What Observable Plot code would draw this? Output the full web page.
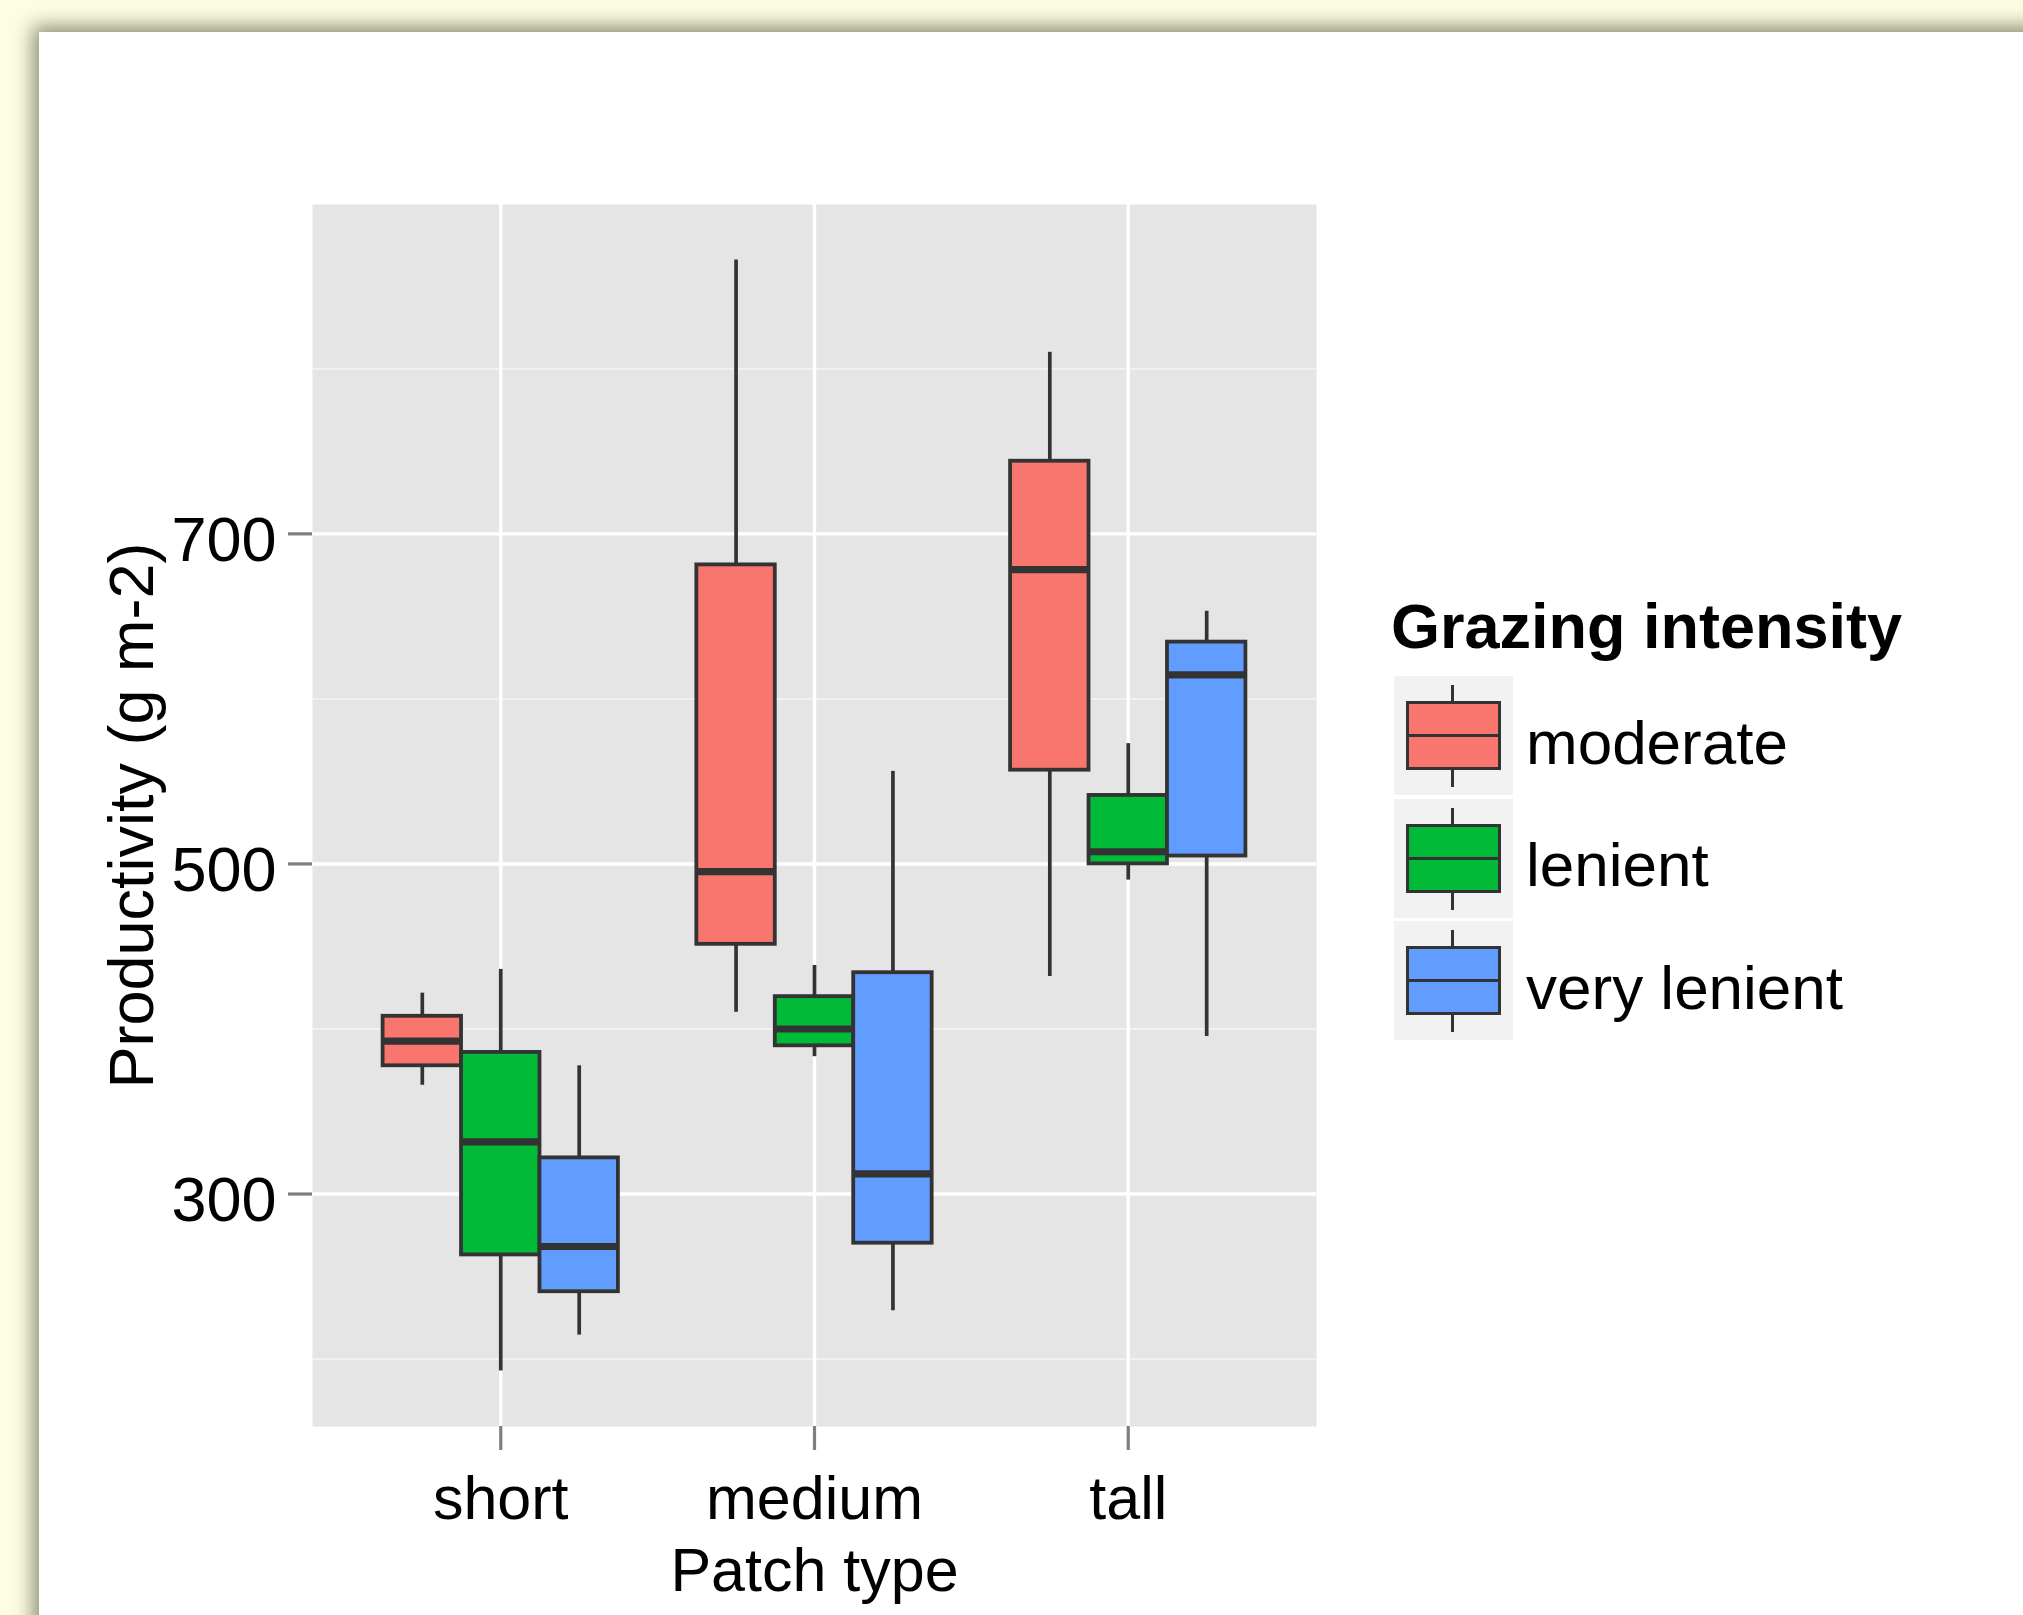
<!DOCTYPE html>
<html>
<head>
<meta charset="utf-8">
<script src="https://cdn.jsdelivr.net/npm/d3@7"></script>
<script src="https://cdn.jsdelivr.net/npm/@observablehq/plot@0.6"></script>
<style>
  html, body { margin: 0; padding: 0; }
  body {
    width: 2023px; height: 1615px; position: relative; overflow: hidden;
    background: #FDFDE4;
    font-family: "Liberation Sans", Arial, Helvetica, sans-serif;
  }
  #paper {
    position: absolute; left: 39px; top: 32px; width: 2100px; height: 1700px;
    background: #ffffff;
    box-shadow: -3px -3px 18px 3px rgba(70, 70, 45, 0.6);
  }
  #chart { position: absolute; left: 0; top: 0; width: 1340px; height: 1615px; }
  .legend-title {
    position: absolute; left: 1391px; top: 595px;
    font-size: 63px; line-height: 63px; font-weight: bold; color: #000; white-space: nowrap;
  }
  .key {
    position: absolute; left: 1394px; width: 119px; height: 119px; background: #F2F2F2;
  }
  .key .whisker {
    position: absolute; left: 57px; width: 3.4px; top: 9px; bottom: 8px; background: #333333;
  }
  .key .box {
    position: absolute; left: 12px; right: 12px; top: 25px; bottom: 25px;
    border: 3.4px solid #333333; box-sizing: border-box;
  }
  .key .median {
    position: absolute; left: 12px; right: 12px; top: 58px; height: 3.4px; background: #333333;
  }
  .key-label {
    position: absolute; left: 1526px; font-size: 62px; line-height: 62px; color: #000; white-space: nowrap;
  }
</style>
</head>
<body>
<div id="paper"></div>
<div id="chart"></div>
<div id="legend"></div>
<script>
// ---- data ----
const patches = ["short", "medium", "tall"];
const grazing = ["moderate", "lenient", "very lenient"];
const boxColors = ["#F8766D", "#00BA38", "#619CFF"];
// rows: grazing level (moderate, lenient, very lenient); columns: patch type (short, medium, tall)
const lowerWhisker = [[365.9, 410.1, 431.8], [192.8, 383.2, 490.2], [214.5, 229.3, 395.5]];
const lowerHinge   = [[377.7, 451.3, 556.8], [263.1, 389.8, 500.0], [240.8, 270.2, 504.8]];
const medians      = [[392.7, 495.3, 678.3], [331.6, 400.0, 507.4], [268.2, 312.2, 614.6]];
const upperHinge   = [[407.7, 681.2, 744.0], [385.8, 419.6, 541.5], [321.9, 434.1, 634.4]];
const upperWhisker = [[421.7, 865.9, 810.0], [436.1, 438.5, 572.9], [377.7, 556.1, 653.1]];
const majorYTicks = [300, 500, 700];
const minorYTicks = [200, 400, 600, 800];
const yTitle = "Productivity (g m-2)";
const xTitle = "Patch type";
const legendTitle = "Grazing intensity";

// ---- table for the library ----
const boxWidth = 0.25; // dodged box width, in category units
const patchPositions = patches.map((p, i) => i + 1);
const rows = [];
grazing.forEach((g, gi) => patches.forEach((p, pi) => rows.push({
  patch: p, grazing: g,
  pos: pi + 1 + (gi - 1) * boxWidth,
  lo: lowerWhisker[gi][pi], q1: lowerHinge[gi][pi], med: medians[gi][pi],
  q3: upperHinge[gi][pi], hi: upperWhisker[gi][pi]
})));
const yMin = d3.min(lowerWhisker.flat()), yMax = d3.max(upperWhisker.flat());
const yPad = 0.05 * (yMax - yMin);
const ink = "#333333";

const chart = Plot.plot({
  width: 1340, height: 1615,
  marginLeft: 312, marginRight: 24, marginTop: 204, marginBottom: 189,
  style: { background: "transparent", fontFamily: "'Liberation Sans', Arial, Helvetica, sans-serif", overflow: "visible" },
  x: { type: "linear", domain: [0.4, 3.6], axis: null },
  y: { type: "linear", domain: [yMin - yPad, yMax + yPad], axis: null },
  color: { domain: grazing, range: boxColors },
  marks: [
    Plot.frame({ fill: "#E5E5E5", stroke: "none" }),
    Plot.gridY(minorYTicks, { stroke: "#F2F2F2", strokeOpacity: 1, strokeWidth: 1.8 }),
    Plot.gridY(majorYTicks, { stroke: "#FFFFFF", strokeOpacity: 1, strokeWidth: 3.4 }),
    Plot.gridX(patchPositions, { stroke: "#FFFFFF", strokeOpacity: 1, strokeWidth: 3.4 }),
    Plot.ruleX(rows, { x: "pos", y1: "lo", y2: "q1", stroke: ink, strokeWidth: 3.7 }),
    Plot.ruleX(rows, { x: "pos", y1: "q3", y2: "hi", stroke: ink, strokeWidth: 3.7 }),
    Plot.rect(rows, {
      x1: d => d.pos - boxWidth / 2, x2: d => d.pos + boxWidth / 2,
      y1: "q1", y2: "q3", fill: "grazing", stroke: ink, strokeWidth: 3.8
    }),
    Plot.ruleY(rows, {
      y: "med", x1: d => d.pos - boxWidth / 2, x2: d => d.pos + boxWidth / 2,
      stroke: ink, strokeWidth: 7.2
    }),
    Plot.axisY(majorYTicks, { anchor: "left", tickSize: 24, stroke: "#7F7F7F", strokeWidth: 3.2, fill: "none", label: null }),
    Plot.axisY(majorYTicks, { anchor: "left", tickSize: 0, tickPadding: 36, dy: 7, fontSize: 63, fill: "#000000", label: null }),
    Plot.axisX(patchPositions, { anchor: "bottom", tickSize: 24, stroke: "#7F7F7F", strokeWidth: 3.2, fill: "none", label: null }),
    Plot.axisX(patchPositions, { anchor: "bottom", tickSize: 0, tickPadding: 49, fontSize: 61, fill: "#000000", label: null,
      tickFormat: d => patches[d - 1] }),
    Plot.text([xTitle], { text: d => d, frameAnchor: "bottom", textAnchor: "middle", lineAnchor: "middle",
      dy: 145, fontSize: 61, fill: "#000000" }),
    Plot.text([yTitle], { text: d => d, frameAnchor: "left", textAnchor: "middle", lineAnchor: "middle",
      dx: -180, rotate: -90, fontSize: 63, fill: "#000000" })
  ]
});
document.getElementById("chart").appendChild(chart);

// ---- legend (ggplot-style boxplot keys) ----
const legend = document.getElementById("legend");
const title = document.createElement("div");
title.className = "legend-title";
title.textContent = legendTitle;
legend.appendChild(title);
grazing.forEach((g, i) => {
  const top = 676 + i * 122.5;
  const key = document.createElement("div");
  key.className = "key";
  key.style.top = top + "px";
  key.innerHTML = `<div class="whisker"></div><div class="box" style="background:${boxColors[i]}"></div><div class="median"></div>`;
  legend.appendChild(key);
  const label = document.createElement("div");
  label.className = "key-label";
  label.style.top = (top + 88 - 52.5) + "px";
  label.textContent = g;
  legend.appendChild(label);
});
</script>
</body>
</html>
